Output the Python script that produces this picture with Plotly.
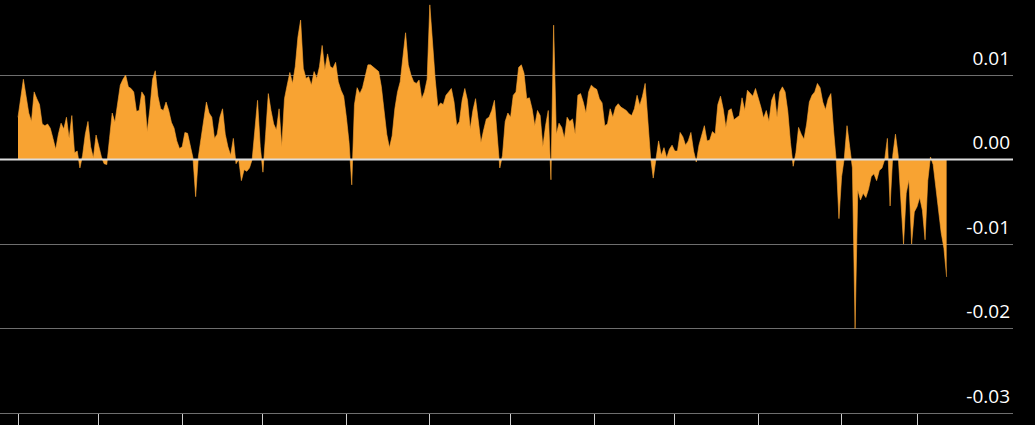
import pandas as pd
import plotly.graph_objects as go

# ---- data (daily values, in units of 1e-4) ----
start_date = "2024-04-01"
apr = [50, 70, 95, 75, 55, 45, 80, 72, 65, 42, 40, 42, 37, 25, 12, 30, 43, 36, 50, 25,
       52, 8, 10, -10, 5, 30, 45, 15, 2, 29]
may = [15, 3, -5, -6, 25, 55, 44, 65, 88, 95, 100, 86, 84, 80, 57, 58, 80, 75, 33, 60,
       95, 105, 75, 60, 58, 68, 58, 44, 37, 22, 13]
jun = [15, 32, 31, 18, 2, -44, 3, 25, 48, 68, 55, 50, 25, 30, 50, 60, 30, 15, 5, 25,
       -5, 0, -25, -12, -14, -10, 0, 38, 70, 15]
jul = [-15, 30, 78, 58, 42, 35, 60, 15, 72, 88, 103, 90, 110, 145, 165, 108, 96, 98, 88, 104,
       96, 110, 135, 106, 125, 110, 108, 115, 92, 82, 75]
aug = [50, 20, -30, 65, 85, 78, 85, 97, 112, 112, 109, 107, 104, 86, 55, 30, 14, 28, 60, 80,
       92, 120, 150, 112, 100, 92, 90, 94, 72, 80, 95]
sep = [183, 135, 95, 62, 67, 65, 76, 80, 84, 68, 40, 45, 70, 84, 70, 36, 58, 72, 47, 20,
       35, 48, 50, 58, 70, 25, -10, 5, 45, 55]
oct_ = [50, 76, 80, 109, 112, 102, 72, 73, 60, 40, 58, 52, 15, 40, 58, -24, 159, 30, 43, 38,
        25, 50, 45, 48, 30, 76, 78, 68, 55, 80, 88]
nov = [85, 83, 72, 67, 40, 42, 60, 50, 62, 66, 62, 60, 58, 54, 52, 60, 76, 64, 75, 90,
       50, 3, -22, 0, 22, 5, 14, 2, 12, 17]
dec = [10, 10, 32, 27, 17, 22, 32, 10, -3, 17, 30, 40, 22, 23, 33, 30, 65, 75, 60, 38,
       58, 60, 47, 49, 52, 73, 58, 82, 78, 75, 84]
jan = [74, 62, 49, 58, 45, 70, 78, 50, 80, 86, 80, 57, 20, -8, 8, 38, 30, 24, 42, 68,
       76, 80, 90, 85, 68, 59, 72, 78, 35, -2, -70]
feb = [-20, 2, 40, 15, -10, -200, -36, -48, -40, -45, -35, -20, -17, -25, -13, -10, 0, 25, -55, 5,
       30, 5, -50, -100, -40, -24, -100, -62]
mar = [-56, -45, -60, -95, -25, 3, -6, -32, -63, -87, -105, -139]

values_e4 = apr + may + jun + jul + aug + sep + oct_ + nov + dec + jan + feb + mar
values = [v / 10000 for v in values_e4]
dates = pd.date_range(start_date, periods=len(values), freq="D")

month_ticks = pd.date_range("2024-04-01", "2025-03-01", freq="MS")
y_ticks = [0.01, 0.0, -0.01, -0.02, -0.03]
y_tick_labels = ["0.01", "0.00", "-0.01", "-0.02", "-0.03"]

ORANGE = "#F8A332"
GRID = "#6e6e6e"

fig = go.Figure()
fig.add_trace(go.Scatter(
    x=dates, y=values, mode="lines", fill="tozeroy",
    fillcolor=ORANGE, line=dict(color=ORANGE, width=0.6),
    hoverinfo="skip", showlegend=False,
))

fig.update_layout(
    width=1035, height=425,
    margin=dict(l=0, r=22, t=0, b=12),
    paper_bgcolor="black", plot_bgcolor="black",
    font=dict(family="Open Sans, sans-serif", color="#e6e6e6", size=19),
    shapes=[dict(type="line", xref="paper", yref="y", x0=0, x1=1, y0=0, y1=0,
                 line=dict(color="#dcdcdc", width=2), layer="above")],
)

fig.update_xaxes(
    range=["2024-03-25 07:30", "2025-04-05 16:00"],
    tickvals=month_ticks, showticklabels=False,
    ticks="outside", ticklen=12, tickwidth=1, tickcolor="#cfcfcf",
    showgrid=False, zeroline=False,
    showline=True, linecolor=GRID, linewidth=1,
)

fig.update_yaxes(
    range=[-0.03, 0.018876],
    side="right", tickvals=y_ticks, ticktext=y_tick_labels,
    ticklabelposition="inside", ticklabelshift=-17, ticklabelstandoff=0,
    showgrid=True, gridcolor=GRID, gridwidth=1,
    zeroline=False, showline=False, ticks="",
)

fig.write_html(
    "out.html",
    config={"displayModeBar": False},
    post_script="document.body.style.margin='0';document.body.style.overflow='hidden';",
)
